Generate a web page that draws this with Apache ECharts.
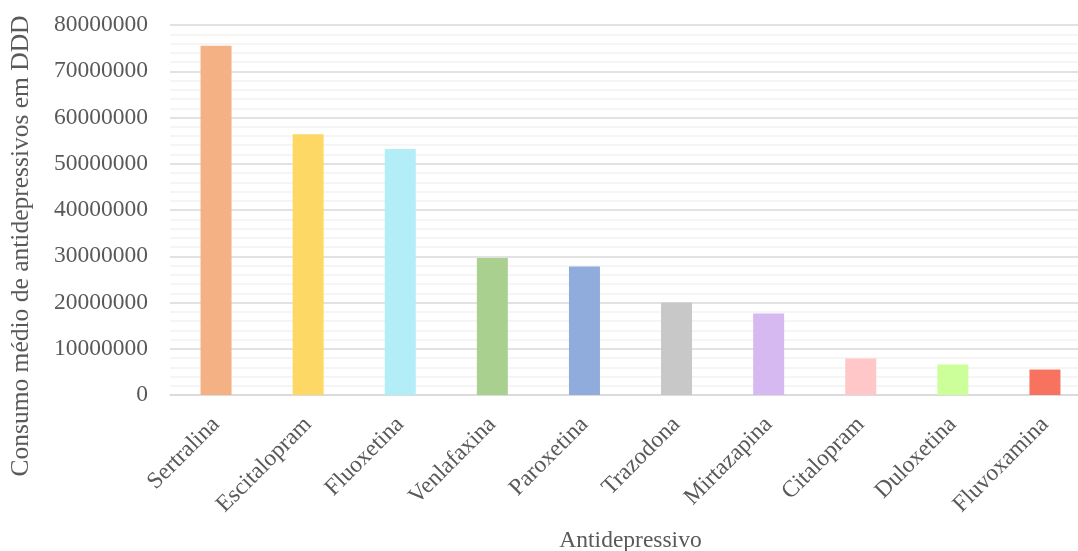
<!DOCTYPE html>
<html>
<head>
<meta charset="utf-8">
<script src="https://cdn.jsdelivr.net/npm/echarts@6/dist/echarts.min.js"></script>
<style>
  html, body { margin: 0; padding: 0; background: #ffffff; }
  #chart { width: 1078px; height: 551px; }
</style>
</head>
<body>
<div id="chart"></div>
<script>
// Antidepressants and their mean consumption in DDD
const categories = ['Sertralina', 'Escitalopram', 'Fluoxetina', 'Venlafaxina', 'Paroxetina',
  'Trazodona', 'Mirtazapina', 'Citalopram', 'Duloxetina', 'Fluvoxamina'];
const consumption = [75500000, 56400000, 53200000, 29600000, 27800000,
  20000000, 17600000, 7900000, 6600000, 5500000];
const barColors = ['#F4B183', '#FDD865', '#B2EDF8', '#A9D08E', '#8FACDC',
  '#C8C8C8', '#D5B9F0', '#FFC7C7', '#CCFF99', '#F8735F'];

const yMin = 0;
const yMax = 80000000;
const yStep = 10000000;

const font = 'Liberation Serif, Times New Roman, serif';
const textColor = '#595959';

const chart = echarts.init(document.getElementById('chart'), null, { renderer: 'canvas' });

chart.setOption({
  animation: false,
  backgroundColor: '#ffffff',
  grid: { left: 170, top: 25, width: 921, height: 370, containLabel: false, outerBoundsMode: 'none' },
  xAxis: {
    type: 'category',
    data: categories,
    name: 'Antidepressivo',
    nameLocation: 'middle',
    nameGap: 134,
    nameTextStyle: { fontFamily: font, fontSize: 23.5, color: textColor },
    axisLine: { show: true, lineStyle: { color: '#D9D9D9', width: 1.5 } },
    axisTick: { show: false },
    axisLabel: {
      interval: 0,
      rotate: 45,
      margin: 26,
      fontFamily: font,
      fontSize: 23.5,
      color: textColor
    }
  },
  yAxis: {
    type: 'value',
    min: yMin,
    max: yMax,
    interval: yStep,
    name: 'Consumo médio de antidepressivos em DDD',
    nameLocation: 'middle',
    nameGap: 136,
    nameTextStyle: { fontFamily: font, fontSize: 25.5, color: textColor, padding: [0, 72, 0, 0] },
    axisLine: { show: false },
    axisTick: { show: false },
    axisLabel: {
      margin: 22,
      fontFamily: font,
      fontSize: 23.5,
      color: textColor,
      formatter: v => String(v)
    },
    splitLine: { show: true, lineStyle: { color: '#D9D9D9', width: 1.5 } },
    minorTick: { show: false, splitNumber: 5 },
    minorSplitLine: { show: true, lineStyle: { color: '#F2F2F2', width: 1.5 } }
  },
  series: [{
    type: 'bar',
    barWidth: 31,
    data: consumption.map((v, i) => ({ value: v, itemStyle: { color: barColors[i] } })),
    z: 3
  }]
});
</script>
</body>
</html>
